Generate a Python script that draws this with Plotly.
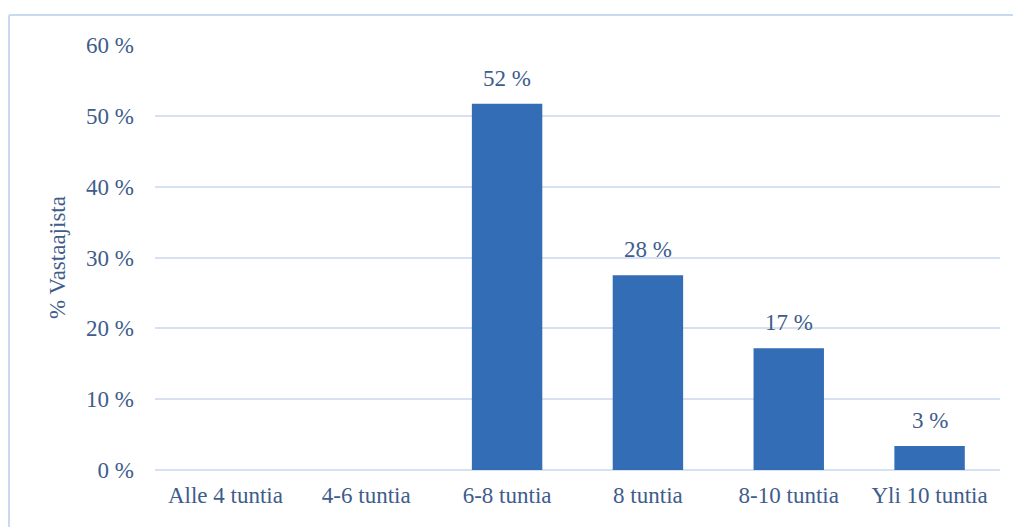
import plotly.graph_objects as go

categories = ["Alle 4 tuntia", "4-6 tuntia", "6-8 tuntia", "8 tuntia", "8-10 tuntia", "Yli 10 tuntia"]
values = [0, 0, 51.7, 27.5, 17.2, 3.4]
labels = ["", "", "52 %", "28 %", "17 %", "3 %"]
tick_vals = [0, 10, 20, 30, 40, 50, 60]
tick_text = ["0 %", "10 %", "20 %", "30 %", "40 %", "50 %", "60 %"]

text_color = "#3E5C8C"
grid_color = "#D6E2F1"
border_color = "#C9DAF0"
font_family = "Liberation Serif, DejaVu Serif, serif"
fs = 23

# page body has an 8px offset
OFF = 8
W, H = 1021, 527
L, R, T, B = 155 - OFF, 21 + OFF, 45 - OFF, 57 + OFF
pw, ph = W - L - R, H - T - B

def px(x):
    return (x - OFF - L) / pw

def py(y):
    return (H - B - (y - OFF)) / ph

fig = go.Figure()
fig.add_trace(go.Bar(
    x=categories, y=values,
    marker=dict(color="#336DB5", line=dict(width=0)),
    width=0.5,
    hoverinfo="skip",
))

for c, v, t in zip(categories, values, labels):
    if t:
        fig.add_annotation(x=c, y=v, text=t, showarrow=False, yanchor="bottom",
                           yshift=11, font=dict(size=fs, color=text_color, family=font_family))

fig.add_shape(type="line", xref="paper", yref="paper", x0=px(9), x1=px(1030), y0=py(15), y1=py(15),
              line=dict(color=border_color, width=2))
fig.add_shape(type="line", xref="paper", yref="paper", x0=px(9), x1=px(9), y0=py(15), y1=py(540),
              line=dict(color=border_color, width=2))

fig.update_layout(
    width=W, height=H,
    margin=dict(l=L, r=R, t=T, b=B),
    paper_bgcolor="white", plot_bgcolor="white",
    font=dict(family=font_family, size=fs, color=text_color),
    showlegend=False,
)
fig.update_xaxes(showgrid=False, showline=False, ticks="", tickfont=dict(size=fs, color=text_color),
                 ticklabelstandoff=9)
fig.update_yaxes(range=[0, 60], tickvals=tick_vals, ticktext=tick_text, showgrid=True,
                 gridcolor=grid_color, gridwidth=1.5, zeroline=True, zerolinecolor=grid_color,
                 zerolinewidth=1.5, showline=False, ticks="", ticklabelstandoff=20,
                 tickfont=dict(size=fs, color=text_color),
                 title=dict(text="% Vastaajista", font=dict(size=fs, color=text_color), standoff=14))

fig.write_html("out.html")
